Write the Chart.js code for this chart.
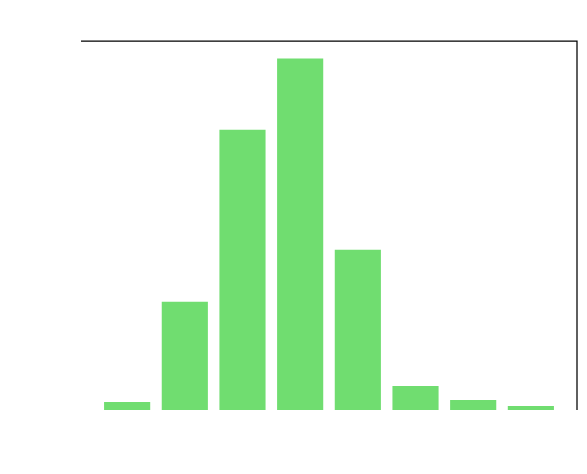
<!DOCTYPE html>
<html>
<head>
<meta charset="utf-8">
<script src="https://cdn.jsdelivr.net/npm/chart.js@4"></script>
<style>
  html, body { margin: 0; padding: 0; background: #fff; }
  canvas { display: block; }
</style>
</head>
<body>
<canvas id="histChart" width="587" height="474"></canvas>
<script>
// ===== DATA =====
const binPositions = [0, 1, 2, 3, 4, 5, 6, 7];
const binCounts = [8, 108, 280, 351, 160, 24, 10, 4];

// ===== SPINES (top + right only, like the reference) =====
const spines = {
  id: 'spines',
  afterDraw(chart) {
    const { ctx, chartArea: a } = chart;
    ctx.save();
    ctx.strokeStyle = '#000';
    ctx.lineWidth = 1.25;
    ctx.beginPath();
    ctx.moveTo(a.left, a.top);
    ctx.lineTo(a.right, a.top);
    ctx.lineTo(a.right, a.bottom);
    ctx.stroke();
    ctx.restore();
  }
};

const ctx = document.getElementById('histChart').getContext('2d');
const histChart = new Chart(ctx, {
  type: 'bar',
  data: {
    datasets: [{
      data: binPositions.map((x, i) => ({ x: x, y: binCounts[i] })),
      backgroundColor: '#70dd70',
      borderWidth: 0,
      barPercentage: 0.8,
      categoryPercentage: 1
    }]
  },
  options: {
    responsive: false,
    animation: false,
    layout: { padding: { left: 81, right: 10, top: 41, bottom: 64 } },
    plugins: {
      legend: { display: false },
      tooltip: { enabled: false }
    },
    scales: {
      x: {
        type: 'linear', min: -0.8, max: 7.8, offset: false, display: false,
        // ticks only on the bins so the bar width follows the bin spacing
        afterBuildTicks: axis => { axis.ticks = binPositions.map(v => ({ value: v })); }
      },
      y: { min: 0, max: 351 * 1.05, display: false }
    }
  },
  plugins: [spines]
});
</script>
</body>
</html>
